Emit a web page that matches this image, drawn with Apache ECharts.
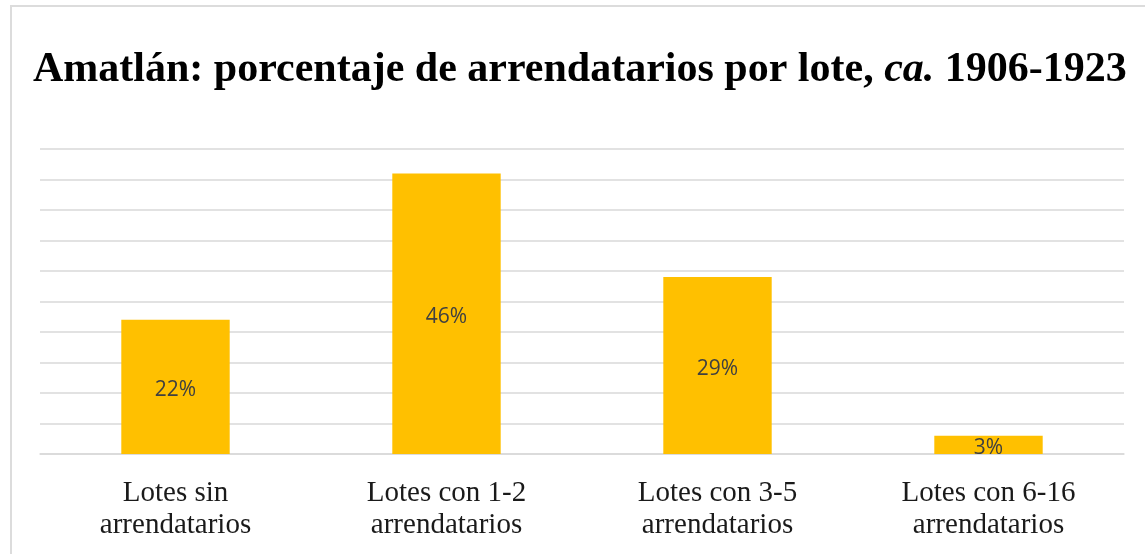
<!DOCTYPE html>
<html>
<head>
<meta charset="utf-8">
<script src="https://cdn.jsdelivr.net/npm/echarts@6/dist/echarts.min.js"></script>
<style>
html,body{margin:0;padding:0;background:#fff;}
#chart{width:1145px;height:554px;}
</style>
</head>
<body>
<div id="chart"></div>
<script>
const categories = ['Lotes sin\narrendatarios', 'Lotes con 1-2\narrendatarios', 'Lotes con 3-5\narrendatarios', 'Lotes con 6-16\narrendatarios'];
const values = [22, 46, 29, 3];
const yTicks = [0, 50, 5];

const chart = echarts.init(document.getElementById('chart'));
chart.setOption({
  backgroundColor: '#ffffff',
  animation: false,
  title: {
    left: 28,
    top: 44,
    text: '{b|Amatlán: porcentaje de arrendatarios por lote, }{i|ca.}{b| 1906-1923}',
    textStyle: {
      rich: {
        b: { fontFamily: 'Liberation Serif', fontWeight: 'bold', fontSize: 42, color: '#000' },
        i: { fontFamily: 'Liberation Serif', fontWeight: 'bold', fontStyle: 'italic', fontSize: 42, color: '#000' }
      }
    }
  },
  graphic: [
    { type: 'line', shape: { x1: 10, y1: 6, x2: 1145, y2: 6 }, style: { stroke: '#dcdcdc', lineWidth: 2 }, silent: true },
    { type: 'line', shape: { x1: 11, y1: 6, x2: 11, y2: 554 }, style: { stroke: '#dcdcdc', lineWidth: 2 }, silent: true }
  ],
  grid: { left: 40, right: 21, top: 149, bottom: 100, containLabel: false },
  xAxis: {
    type: 'category',
    data: categories,
    axisLine: { show: true, lineStyle: { color: '#d9d9d9', width: 1.5 } },
    axisTick: { show: false },
    axisLabel: {
      fontFamily: 'Liberation Serif',
      fontSize: 29,
      color: '#1a1a1a',
      lineHeight: 32,
      margin: 23,
      interval: 0
    }
  },
  yAxis: {
    type: 'value',
    min: yTicks[0],
    max: yTicks[1],
    interval: yTicks[2],
    axisLabel: { show: false },
    axisLine: { show: false },
    axisTick: { show: false },
    splitLine: { show: true, lineStyle: { color: '#d9d9d9', width: 1.5 } }
  },
  series: [{
    type: 'bar',
    data: values,
    barWidth: '40%',
    itemStyle: { color: '#FFC000' },
    label: {
      show: true,
      position: 'inside',
      offset: [0, 3],
      formatter: '{c}%',
      fontFamily: 'Open Sans',
      fontSize: 21,
      color: '#404040'
    }
  }]
});
</script>
</body>
</html>
